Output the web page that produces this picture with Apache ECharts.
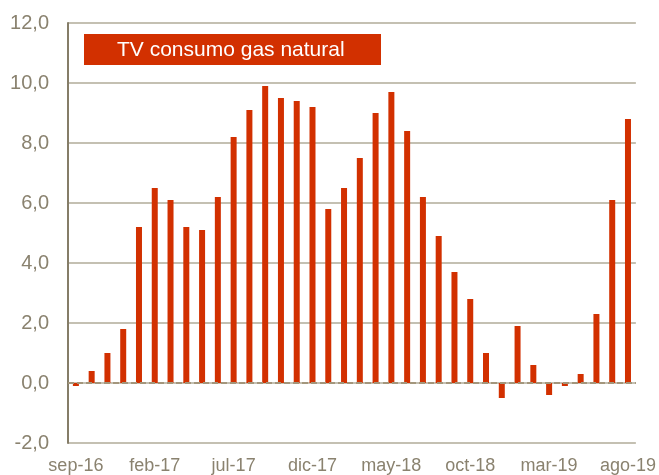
<!DOCTYPE html>
<html>
<head>
<meta charset="utf-8">
<script src="https://cdn.jsdelivr.net/npm/echarts@6/dist/echarts.min.js"></script>
<style>
  html, body { margin: 0; padding: 0; background: #fff; }
  #chart { width: 659px; height: 475px; }
</style>
</head>
<body>
<div id="chart"></div>
<script>
// Monthly months sep-16 .. ago-19
const months = [
  'sep-16','oct-16','nov-16','dic-16','ene-17','feb-17','mar-17','abr-17','may-17','jun-17','jul-17','ago-17',
  'sep-17','oct-17','nov-17','dic-17','ene-18','feb-18','mar-18','abr-18','may-18','jun-18','jul-18','ago-18',
  'sep-18','oct-18','nov-18','dic-18','ene-19','feb-19','mar-19','abr-19','may-19','jun-19','jul-19','ago-19'
];

// Year-on-year change in natural gas consumption (%)
const tvGas = [
  -0.1, 0.4, 1.0, 1.8, 5.2, 6.5, 6.1, 5.2, 5.1, 6.2, 8.2, 9.1,
  9.9, 9.5, 9.4, 9.2, 5.8, 6.5, 7.5, 9.0, 9.7, 8.4, 6.2, 4.9,
  3.7, 2.8, 1.0, -0.5, 1.9, 0.6, -0.4, -0.1, 0.3, 2.3, 6.1, 8.8
];

const seriesName = 'TV consumo gas natural';

const yMin = -2, yMax = 12, yStep = 2;

const labelColor = '#8a826f';
const barColor = '#d23000';

const chart = echarts.init(document.getElementById('chart'), null, { renderer: 'canvas' });

chart.setOption({
  animation: false,
  grid: { left: 68, right: 23, top: 23, bottom: 32, containLabel: false },
  xAxis: {
    type: 'category',
    data: months,
    boundaryGap: true,
    axisLine: { show: false },
    axisTick: { show: false },
    axisLabel: {
      interval: 4,
      color: labelColor,
      fontFamily: 'Liberation Sans, Arial, sans-serif',
      fontSize: 18,
      margin: 14
    },
    splitLine: { show: false }
  },
  yAxis: {
    type: 'value',
    min: yMin,
    max: yMax,
    interval: yStep,
    axisLine: { show: true, lineStyle: { color: '#857d68', width: 2 } },
    axisTick: { show: false },
    axisLabel: {
      color: labelColor,
      fontFamily: 'Liberation Sans, Arial, sans-serif',
      fontSize: 20,
      margin: 19,
      formatter: v => v.toFixed(1).replace('.', ',')
    },
    splitLine: { show: true, lineStyle: { color: '#c4c0b2', width: 2 } }
  },
  series: [{
    name: seriesName,
    type: 'bar',
    data: tvGas,
    barWidth: 6,
    itemStyle: { color: barColor },
    markLine: {
      silent: true,
      symbol: 'none',
      label: { show: false },
      lineStyle: { color: '#a3967c', type: [6, 3], width: 2 },
      data: [{ yAxis: 0 }],
      z: 5
    }
  }],
  graphic: [
    {
      type: 'rect',
      left: 84,
      top: 34,
      shape: { width: 297, height: 31 },
      style: { fill: barColor }
    },
    {
      type: 'text',
      left: 117,
      top: 40,
      style: {
        text: seriesName,
        fill: '#ffffff',
        font: '21px "Liberation Sans", Arial, sans-serif'
      }
    }
  ]
});
</script>
</body>
</html>
